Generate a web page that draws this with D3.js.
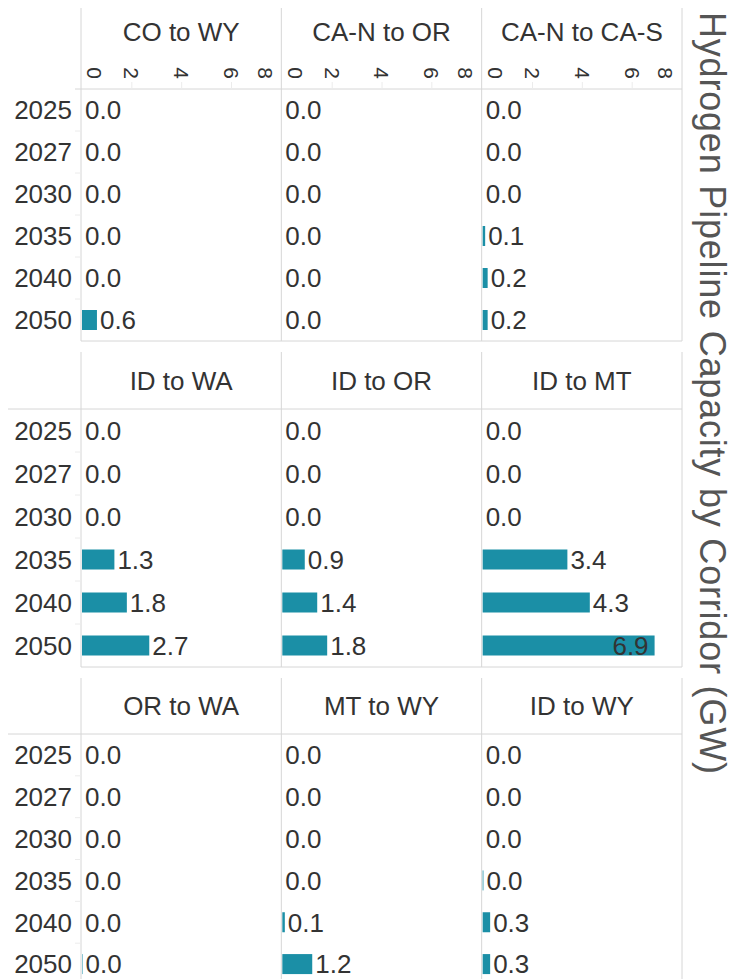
<!DOCTYPE html>
<html>
<head>
<meta charset="utf-8">
<script src="https://cdn.jsdelivr.net/npm/d3@7"></script>
<style>
  body { margin: 0; background: #fff; }
  svg { display: block; font-family: "Liberation Sans", Arial, sans-serif; }
</style>
</head>
<body>
<svg></svg>
<script>
var width = 733;
var height = 979;

// data (GW)
var years = ["2025", "2027", "2030", "2035", "2040", "2050"];
var corridors = [
    ["CO to WY", "CA-N to OR", "CA-N to CA-S"],
    ["ID to WA", "ID to OR", "ID to MT"],
    ["OR to WA", "MT to WY", "ID to WY"]
];
var capacity = {
    "CO to WY":     [0, 0, 0, 0, 0, 0.6],
    "CA-N to OR":   [0, 0, 0, 0, 0, 0],
    "CA-N to CA-S": [0, 0, 0, 0.1, 0.2, 0.2],
    "ID to WA":     [0, 0, 0, 1.3, 1.8, 2.7],
    "ID to OR":     [0, 0, 0, 0.9, 1.4, 1.8],
    "ID to MT":     [0, 0, 0, 3.4, 4.3, 6.9],
    "OR to WA":     [0, 0, 0, 0, 0, 0.02],
    "MT to WY":     [0, 0, 0, 0, 0.1, 1.2],
    "ID to WY":     [0, 0, 0, 0.03, 0.3, 0.3]
};
var xTicks = [0, 2, 4, 6, 8];
var xMax = 8;
var title = "Hydrogen Pipeline Capacity by Corridor (GW)";

// layout of the three panel rows
var sections = [
    {top: 8, head: 89, bottom: 341, titleY: 32, lineFrom: 75, ticks: true},
    {top: 352, head: 409, bottom: 667, titleY: 381, lineFrom: 8, ticks: false},
    {top: 678, head: 734, bottom: 985, titleY: 706, lineFrom: 8, ticks: false}
];
var colLeft = 81;
var colRight = 682;
var barColor = "#1b8fa6";
var lineColor = "#d6d6d6";
var textColor = "#333";
var fmt = d3.format(".1f");

var colScale = d3.scaleBand()
    .domain([0, 1, 2])
    .range([colLeft, colRight]);

var svg = d3.select("svg")
    .attr("width", width)
    .attr("height", height);

sections.forEach(function(sec, si) {
    var g = svg.append("g");

    var yScale = d3.scaleBand()
        .domain(years)
        .range([sec.head, sec.bottom]);

    //panel borders
    [colLeft, colScale(1), colScale(2), colRight].forEach(function(x) {
        g.append("line")
            .attr("x1", x).attr("x2", x)
            .attr("y1", sec.top).attr("y2", sec.bottom)
            .attr("stroke", lineColor);
    });
    g.append("line")
        .attr("x1", sec.lineFrom).attr("x2", colRight)
        .attr("y1", sec.head).attr("y2", sec.head)
        .attr("stroke", lineColor);
    g.append("line")
        .attr("x1", colLeft).attr("x2", colRight)
        .attr("y1", sec.bottom).attr("y2", sec.bottom)
        .attr("stroke", lineColor);

    //row separators left of the axis
    years.slice(1).forEach(function(yr) {
        g.append("line")
            .attr("x1", 75).attr("x2", colLeft)
            .attr("y1", yScale(yr)).attr("y2", yScale(yr))
            .attr("stroke", "#ececec");
    });

    //year labels
    g.selectAll(".year")
        .data(years)
        .enter()
        .append("text")
            .attr("x", 72)
            .attr("y", d => yScale(d) + yScale.bandwidth() / 2)
            .attr("dy", "0.36em")
            .attr("text-anchor", "end")
            .attr("font-size", 26)
            .attr("fill", textColor)
            .text(d => d);

    corridors[si].forEach(function(name, ci) {
        var x0 = colScale(ci);
        var xScale = d3.scaleLinear()
            .domain([0, xMax])
            .range([x0 + 1, x0 + colScale.bandwidth()]);

        //column title
        g.append("text")
            .attr("x", x0 + colScale.bandwidth() / 2)
            .attr("y", sec.titleY)
            .attr("dy", "0.36em")
            .attr("text-anchor", "middle")
            .attr("font-size", 26)
            .attr("fill", textColor)
            .text(name);

        if (sec.ticks) {
            xTicks.forEach(function(t, i) {
                var tx = xScale(t);
                if (i > 0 && i < xTicks.length - 1) {
                    g.append("line")
                        .attr("x1", tx).attr("x2", tx)
                        .attr("y1", 82).attr("y2", sec.head)
                        .attr("stroke", "#ececec");
                }
                var lx = Math.min(Math.max(tx, x0 + 14), x0 + colScale.bandwidth() - 16);
                g.append("text")
                    .attr("transform", "translate(" + lx + ",73) rotate(90)")
                    .attr("text-anchor", "middle")
                    .attr("dy", "0.36em")
                    .attr("font-size", 21)
                    .attr("fill", textColor)
                    .text(t);
            });
        }

        var rows = years.map((yr, i) => ({year: yr, value: capacity[name][i]}));

        g.selectAll(".bar" + si + ci)
            .data(rows)
            .enter()
            .append("rect")
                .attr("x", xScale(0))
                .attr("y", d => yScale(d.year) + yScale.bandwidth() / 2 - 10)
                .attr("width", d => xScale(d.value) - xScale(0))
                .attr("height", 20)
                .attr("fill", barColor);

        g.selectAll(".val" + si + ci)
            .data(rows)
            .enter()
            .append("text")
                .attr("x", d => xScale(d.value) > x0 + colScale.bandwidth() - 45 ? xScale(d.value) - 6 : xScale(d.value) + 3)
                .attr("y", d => yScale(d.year) + yScale.bandwidth() / 2)
                .attr("dy", "0.36em")
                .attr("text-anchor", d => xScale(d.value) > x0 + colScale.bandwidth() - 45 ? "end" : "start")
                .attr("font-size", 26)
                .attr("fill", textColor)
                .text(d => fmt(d.value));
    });
});

//axis title on the right
svg.append("text")
    .attr("transform", "translate(700,12) rotate(90)")
    .attr("text-anchor", "start")
    .attr("font-size", 36)
    .attr("textLength", 762)
    .attr("lengthAdjust", "spacing")
    .attr("fill", "#555")
    .text(title);
</script>
</body>
</html>
